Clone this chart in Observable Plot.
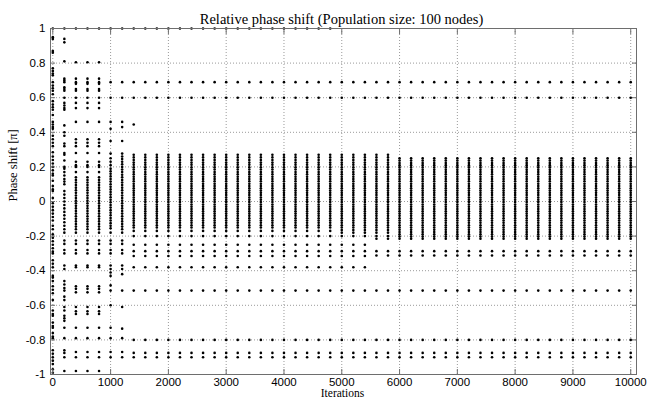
<!DOCTYPE html>
<html><head><meta charset="utf-8">
<script src="https://cdn.jsdelivr.net/npm/d3@7"></script>
<script src="https://cdn.jsdelivr.net/npm/@observablehq/plot@0.6"></script>
<style>body{margin:0;background:#fff} #chart svg{display:block}</style>
</head><body><div id="chart"></div>
<script>
const titleText = "Relative phase shift (Population size: 100 nodes)";
const xLabel = "Iterations";
const yLabel = "Phase shift [\u03c0]";
const xTicks = [0, 1000, 2000, 3000, 4000, 5000, 6000, 7000, 8000, 9000, 10000];
const yTicks = [-1, -0.8, -0.6, -0.4, -0.2, 0, 0.2, 0.4, 0.6, 0.8, 1];

// iteration columns, grouped by the pattern of phase values they show
const iterCol0 = [0];
const iterCol200 = [200];
const iterEarly = [400, 600, 800];
const iterCol1000 = [1000];
const iterCol1200 = [1200];
const iterCol1400 = [1400];
const iterMid = [1600, 1800, 2000, 2200, 2400, 2600, 2800, 3000, 3200, 3400, 3600, 3800, 4000, 4200, 4400, 4600, 4800];
const iterTrans = [5000, 5200, 5400];
const iterLateA = [5600, 5800];
const iterLate = [6000, 6200, 6400, 6600, 6800, 7000, 7200, 7400, 7600, 7800, 8000, 8200, 8400, 8600, 8800, 9000, 9200, 9400, 9600, 9800, 10000];

// phase values (units of pi)
const col0Values = [1.0, 0.95, 0.94, 0.87, 0.86, 0.77, 0.755, 0.74, 0.73, 0.69, 0.67, 0.655, 0.64, 0.62, 0.58, 0.56, 0.545, 0.53, 0.5, 0.46, 0.445, 0.43, 0.42, 0.38, 0.36, 0.34, 0.32, 0.285, 0.26, 0.24, 0.22, 0.2, 0.18, 0.16, 0.15, 0.12, 0.09, 0.07, 0.06, 0.02, -0.01, -0.03, -0.05, -0.07, -0.09, -0.11, -0.14, -0.16, -0.19, -0.21, -0.23, -0.25, -0.27, -0.29, -0.3, -0.34, -0.36, -0.38, -0.43, -0.44, -0.46, -0.49, -0.51, -0.53, -0.57, -0.63, -0.65, -0.66, -0.7, -0.72, -0.73, -0.76, -0.78, -0.79, -0.86, -0.88, -0.9, -0.92, -0.94, -0.97, -0.99];
const col200Values = [1.0, 0.94, 0.92, 0.81, 0.71, 0.7, 0.69, 0.66, 0.65, 0.64, 0.6, 0.57, 0.555, 0.54, 0.53, 0.44, 0.4, 0.38, 0.335, 0.32, 0.28, 0.27, 0.237, 0.2, 0.19, 0.17, 0.15, 0.13, 0.115, 0.1, 0.06, 0.04, 0.02, 0.0, -0.02, -0.04, -0.06, -0.08, -0.1, -0.12, -0.14, -0.16, -0.18, -0.225, -0.245, -0.28, -0.3, -0.37, -0.39, -0.46, -0.48, -0.5, -0.515, -0.55, -0.57, -0.61, -0.63, -0.66, -0.675, -0.69, -0.73, -0.79, -0.86, -0.875, -0.9, -0.98];
const earlyValues = [1.0, 0.805, 0.71, 0.69, 0.68, 0.65, 0.64, 0.6, 0.57, 0.54, 0.46, 0.36, 0.34, 0.32, 0.28, 0.23, 0.21, 0.2, 0.17, 0.14, 0.125, 0.11, 0.095, 0.08, 0.065, 0.05, 0.035, 0.02, 0.005, -0.01, -0.025, -0.04, -0.055, -0.07, -0.085, -0.1, -0.115, -0.13, -0.145, -0.16, -0.18, -0.225, -0.245, -0.28, -0.3, -0.37, -0.38, -0.49, -0.505, -0.525, -0.61, -0.635, -0.65, -0.73, -0.79, -0.87, -0.9, -0.98];
const col1000Values = [1.0, 0.69, 0.6, 0.46, 0.42, 0.35, 0.277, 0.25, 0.23, 0.21, 0.19, 0.175, 0.16, 0.145, 0.13, 0.115, 0.1, 0.085, 0.07, 0.055, 0.04, 0.025, 0.01, -0.005, -0.02, -0.035, -0.05, -0.065, -0.08, -0.095, -0.11, -0.125, -0.14, -0.155, -0.18, -0.225, -0.245, -0.28, -0.3, -0.37, -0.39, -0.41, -0.43, -0.485, -0.515, -0.6, -0.73, -0.79, -0.87, -0.9];
const col1200Values = [1.0, 0.69, 0.6, 0.46, 0.43, 0.35, 0.277, 0.26, 0.245, 0.23, 0.215, 0.2, 0.185, 0.17, 0.155, 0.14, 0.125, 0.11, 0.095, 0.08, 0.065, 0.05, 0.035, 0.02, 0.005, -0.01, -0.025, -0.04, -0.055, -0.07, -0.085, -0.1, -0.115, -0.13, -0.145, -0.16, -0.18, -0.225, -0.245, -0.28, -0.3, -0.37, -0.39, -0.42, -0.515, -0.61, -0.735, -0.79, -0.87, -0.9];
const col1400Extra = [0.445];
const midValues = [1.0, 0.69, 0.6, 0.27, 0.255, 0.24, 0.225, 0.212, 0.198, 0.185, 0.17, 0.157, 0.143, 0.13, 0.117, 0.103, 0.09, 0.077, 0.063, 0.05, 0.037, 0.023, 0.01, -0.003, -0.017, -0.03, -0.043, -0.057, -0.07, -0.083, -0.097, -0.11, -0.123, -0.137, -0.15, -0.17, -0.2, -0.25, -0.287, -0.315, -0.38, -0.515, -0.8, -0.875, -0.9];
const transValues = [0.69, 0.6, 0.27, 0.255, 0.24, 0.225, 0.212, 0.198, 0.185, 0.17, 0.157, 0.143, 0.13, 0.117, 0.103, 0.09, 0.077, 0.063, 0.05, 0.037, 0.023, 0.01, -0.003, -0.017, -0.03, -0.043, -0.057, -0.07, -0.083, -0.097, -0.11, -0.123, -0.137, -0.15, -0.165, -0.18, -0.2, -0.25, -0.287, -0.315, -0.38, -0.515, -0.8, -0.875, -0.9];
const lateAValues = [0.69, 0.6, 0.27, 0.255, 0.24, 0.225, 0.212, 0.198, 0.185, 0.17, 0.157, 0.143, 0.13, 0.117, 0.103, 0.09, 0.077, 0.063, 0.05, 0.037, 0.023, 0.01, -0.003, -0.017, -0.03, -0.043, -0.057, -0.07, -0.083, -0.097, -0.11, -0.123, -0.137, -0.15, -0.165, -0.18, -0.2, -0.215, -0.287, -0.312, -0.515, -0.8, -0.875, -0.9];
const lateValues = [0.69, 0.6, 0.25, 0.237, 0.223, 0.21, 0.197, 0.183, 0.17, 0.157, 0.143, 0.13, 0.117, 0.103, 0.09, 0.077, 0.063, 0.05, 0.037, 0.023, 0.01, -0.003, -0.017, -0.03, -0.043, -0.057, -0.07, -0.083, -0.097, -0.11, -0.123, -0.137, -0.15, -0.163, -0.177, -0.19, -0.203, -0.215, -0.287, -0.312, -0.515, -0.8, -0.875, -0.9];

const groups = [
  [iterCol0, col0Values], [iterCol200, col200Values], [iterEarly, earlyValues],
  [iterCol1000, col1000Values], [iterCol1200, col1200Values],
  [iterCol1400, midValues.concat(col1400Extra)], [iterMid, midValues],
  [iterTrans, transValues], [iterLateA, lateAValues], [iterLate, lateValues]
];
const points = groups.flatMap(([its, vals]) => its.flatMap(it => vals.map(v => ({iter: it, phase: v}))));

const sans = "'Liberation Sans', Arial, sans-serif";
const serif = "'Liberation Serif', 'Times New Roman', serif";
const grid = {stroke: "#9a9a9a", strokeOpacity: 1, strokeDasharray: "1,2", strokeWidth: 1};

const chart = Plot.plot({
  width: 658, height: 404,
  marginLeft: 50, marginRight: 22, marginTop: 28, marginBottom: 30,
  style: {fontFamily: sans, fontSize: "12px", color: "#000", background: "#fff"},
  x: {domain: [-40, 10100]},
  y: {domain: [-1, 1]},
  marks: [
    Plot.gridX(xTicks, grid),
    Plot.gridY(yTicks, grid),
    Plot.dot(points, {x: "iter", y: "phase", r: 1.3, fill: "#000", stroke: "none"}),
    Plot.frame({stroke: "#6e6e6e"}),
    Plot.axisX(xTicks, {anchor: "bottom", tickSize: -5, tickFormat: () => "", label: null, stroke: "#6e6e6e"}),
    Plot.axisX(xTicks, {anchor: "top", tickSize: -5, tickFormat: () => "", label: null, stroke: "#6e6e6e"}),
    Plot.axisY(yTicks, {anchor: "left", tickSize: -5, tickFormat: () => "", label: null, stroke: "#6e6e6e"}),
    Plot.axisY(yTicks, {anchor: "right", tickSize: -5, tickFormat: () => "", label: null, stroke: "#6e6e6e"}),
    Plot.axisX(xTicks, {anchor: "bottom", tickSize: 0, tickPadding: 3, label: null, tickFormat: d => String(d), fontSize: 11.5}),
    Plot.axisY(yTicks, {anchor: "left", tickSize: 0, tickPadding: 5, label: null, tickFormat: d => String(d), fontSize: 11.5}),
    Plot.text([titleText], {text: d => d, frameAnchor: "top", dx: -2, dy: -15, fontFamily: serif, fontSize: 14.5, fill: "#000"}),
    Plot.text([xLabel], {text: d => d, frameAnchor: "bottom", dx: -1, dy: 22, fontFamily: serif, fontSize: 11.5, fill: "#000"}),
    Plot.text([yLabel], {text: d => d, frameAnchor: "left", dx: -38, rotate: -90, fontFamily: serif, fontSize: 12.5, fill: "#000"})
  ]
});
document.getElementById("chart").appendChild(chart);
</script>
</body></html>
